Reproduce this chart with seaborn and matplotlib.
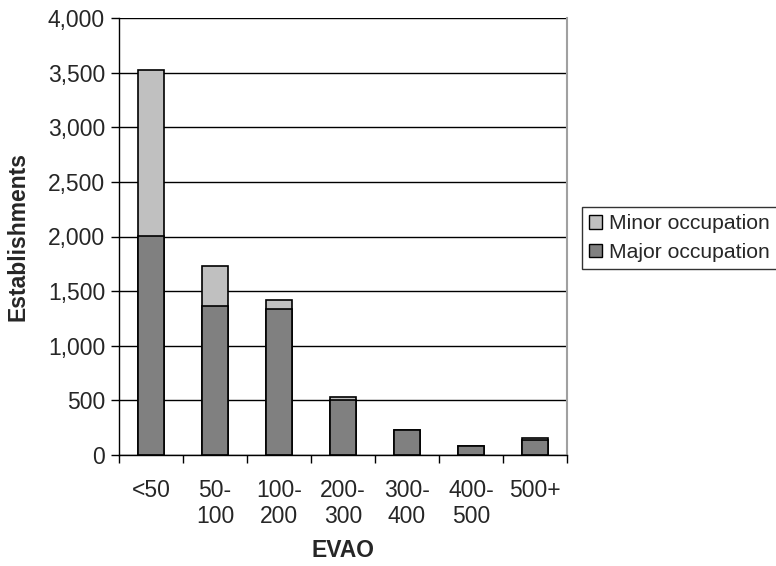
import matplotlib
matplotlib.use("Agg")
import matplotlib.pyplot as plt
import seaborn as sns
import pandas as pd
import numpy as np
from matplotlib.patches import Patch
from matplotlib.ticker import FuncFormatter, FixedLocator

categories = ["<50", "50-\n100", "100-\n200", "200-\n300", "300-\n400", "400-\n500", "500+"]
major = [2005, 1365, 1336, 503, 226, 85, 137]
minor = [1515, 367, 80, 25, 0, 0, 16]
yticks = [0, 500, 1000, 1500, 2000, 2500, 3000, 3500, 4000]

sns.set_theme(style="white")
plt.rcParams["font.family"] = ["Liberation Sans", "DejaVu Sans"]

FS = 16.5

df = pd.DataFrame({"cat": categories, "major": major,
                   "total": [a + b for a, b in zip(major, minor)]})

fig = plt.figure(figsize=(7.76, 5.66), dpi=100)
ax = fig.add_axes([119/776, 1-455/566, (567-119)/776, (455-18)/566])

sns.barplot(data=df, x="cat", y="total", order=categories, color="#C0C0C0",
            edgecolor="black", linewidth=1.2, width=0.4, ax=ax, saturation=1)
sns.barplot(data=df, x="cat", y="major", order=categories, color="#808080",
            edgecolor="black", linewidth=1.2, width=0.4, ax=ax, saturation=1)

ax.set_ylim(0, 4000)
ax.set_xlim(-0.5, len(categories) - 0.5)
ax.set_yticks(yticks)
ax.yaxis.set_major_formatter(FuncFormatter(lambda v, p: f"{int(v):,}"))
ax.yaxis.grid(True, color="black", linewidth=1)
ax.set_axisbelow(True)

ax.xaxis.set_minor_locator(FixedLocator(np.arange(-0.5, len(categories), 1.0)))
ax.tick_params(axis="x", which="major", length=0, labelsize=FS, pad=17)
ax.tick_params(axis="x", which="minor", length=6, width=1, color="black", direction="out", bottom=True)
ax.tick_params(axis="y", length=6, width=1, color="black", direction="out", left=True, labelsize=FS, pad=4)
for lbl in ax.get_xticklabels():
    lbl.set_linespacing(1.2)
    lbl.set_verticalalignment("top")

for s in ["left", "bottom"]:
    ax.spines[s].set_color("black")
    ax.spines[s].set_linewidth(1)
ax.spines["top"].set_visible(False)
ax.spines["right"].set_color("#a0a0a0")
ax.spines["right"].set_linewidth(1.5)

ax.set_xlabel("EVAO", fontsize=FS, fontweight="bold", labelpad=8)
ax.set_ylabel("Establishments", fontsize=FS, fontweight="bold", labelpad=13)

handles = [Patch(facecolor="#C0C0C0", edgecolor="black", label="Minor occupation"),
           Patch(facecolor="#808080", edgecolor="black", label="Major occupation")]
leg = fig.legend(handles=handles, loc="center left", bbox_to_anchor=(582/776, 1-238/566),
                 fontsize=15.2, frameon=True, fancybox=False, edgecolor="black",
                 handlelength=0.6, handleheight=0.6, handletextpad=0.35,
                 borderpad=0.35, labelspacing=0.45, borderaxespad=0)
leg.get_frame().set_linewidth(1)

fig.savefig("out.png", dpi=100)
